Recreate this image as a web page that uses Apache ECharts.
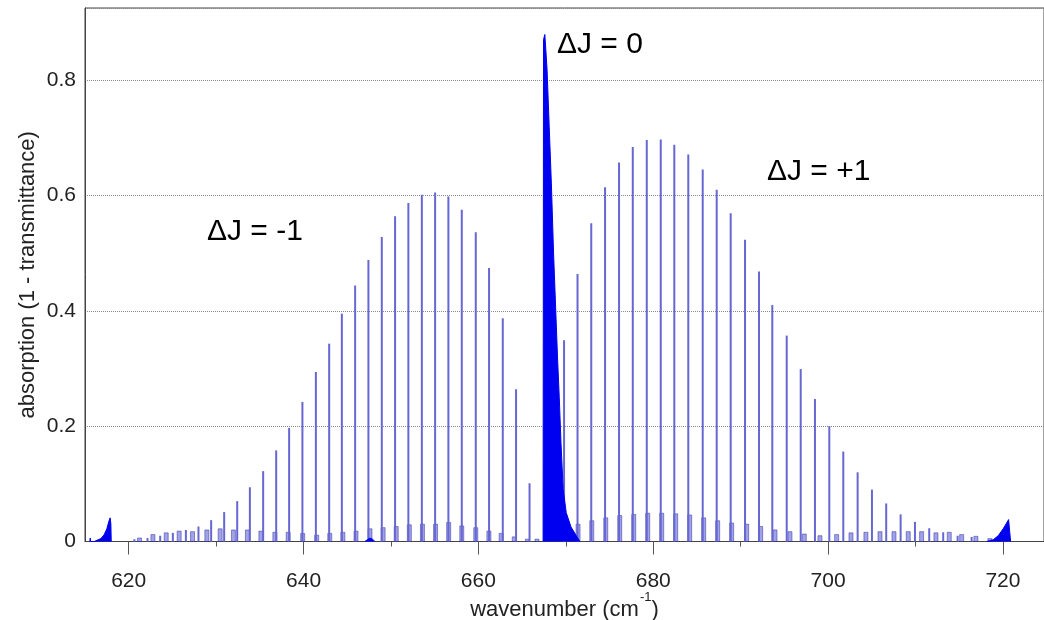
<!DOCTYPE html>
<html>
<head>
<meta charset="utf-8">
<script src="https://cdn.jsdelivr.net/npm/echarts@6/dist/echarts.min.js"></script>
<style>
html,body{margin:0;padding:0;background:#fff;}
#c{width:1044px;height:620px;}
</style>
</head>
<body>
<div id="c"></div>
<script>
// ---- data ----
const xLabelValues = [620, 640, 660, 680, 700, 720];
const xMinorTickValues = [630, 650, 670, 690, 710];
const yTickLabels = ['0', '0.2', '0.4', '0.6', '0.8'];

// P branch (ΔJ = -1) lines
const pWn  = [620.65, 622.15, 623.60, 625.05, 626.54, 627.98, 629.43, 630.92, 632.41, 633.86,
              635.38, 636.87, 638.35, 639.87, 641.41, 642.93, 644.38, 645.90, 647.42, 648.95,
              650.47, 651.99, 653.53, 655.05, 656.57, 658.10, 659.70, 661.22, 662.79, 664.31, 665.85];
const pAbs = [0.004, 0.006, 0.010, 0.015, 0.020, 0.026, 0.037, 0.051, 0.070, 0.094,
              0.122, 0.158, 0.197, 0.242, 0.294, 0.343, 0.395, 0.444, 0.488, 0.528,
              0.564, 0.587, 0.601, 0.605, 0.598, 0.575, 0.536, 0.474, 0.387, 0.264, 0.101];

// R branch (ΔJ = +1) lines
const rWn  = [669.80, 671.34, 672.91, 674.49, 676.09, 677.66, 679.26, 680.86, 682.41, 684.01,
              685.66, 687.26, 688.86, 690.50, 692.10, 693.62, 695.27, 696.87, 698.50, 700.14,
              701.74, 703.38, 705.02, 706.65, 708.30, 709.94, 711.57, 713.17, 714.82, 716.42];
const rAbs = [0.349, 0.464, 0.552, 0.614, 0.657, 0.684, 0.696, 0.697, 0.688, 0.671,
              0.645, 0.610, 0.569, 0.523, 0.468, 0.410, 0.357, 0.299, 0.247, 0.200,
              0.156, 0.120, 0.090, 0.066, 0.047, 0.034, 0.023, 0.016, 0.010, 0.008];

// weak hot-band lines
const hotWn  = [621.24, 622.77, 624.29, 625.77, 627.30, 628.94, 630.46, 631.98, 633.58, 635.12,
                636.72, 638.24, 639.90, 641.50, 643.00, 644.50, 646.00, 647.60, 649.10, 650.60,
                652.10, 653.60, 655.10, 656.60, 658.10, 659.70, 661.20, 662.60, 664.10, 665.60, 666.70,
                671.40, 672.97, 674.57, 676.17, 677.77, 679.37, 680.97, 682.57, 684.17, 685.77,
                687.37, 688.97, 690.69, 692.29, 693.93, 695.64, 697.28, 699.07, 700.98, 702.62,
                704.33, 705.94, 707.54, 709.17, 710.70, 712.34, 713.86, 715.28, 716.91, 718.51];
const hotAbs = [0.006, 0.012, 0.015, 0.018, 0.017, 0.020, 0.022, 0.020, 0.020, 0.018,
                0.016, 0.016, 0.014, 0.011, 0.014, 0.016, 0.018, 0.022, 0.024, 0.026,
                0.029, 0.030, 0.030, 0.033, 0.027, 0.024, 0.018, 0.014, 0.008, 0.004, 0.004,
                0.030, 0.036, 0.041, 0.045, 0.047, 0.049, 0.049, 0.048, 0.046, 0.041,
                0.036, 0.032, 0.030, 0.026, 0.020, 0.017, 0.013, 0.010, 0.012, 0.015,
                0.016, 0.017, 0.017, 0.017, 0.017, 0.015, 0.016, 0.012, 0.009, 0.005];

// Q branch (ΔJ = 0) envelope
const qWn  = [667.40, 667.45, 667.60, 667.85, 668.10, 668.35, 668.60, 668.85, 669.05, 669.25,
              669.45, 669.70, 670.05, 670.60, 671.20, 671.60];
const qAbs = [0, 0.870, 0.879, 0.820, 0.720, 0.620, 0.500, 0.400, 0.320, 0.250,
              0.170, 0.090, 0.050, 0.025, 0.010, 0];

// small hot-band Q branches
const q618Wn  = [615.55, 615.60, 615.65, 616.05, 616.82, 617.20, 617.50, 617.73, 617.88, 617.96, 618.00];
const q618Abs = [0, 0.006, 0, 0, 0.005, 0.012, 0.022, 0.035, 0.041, 0.030, 0];
const q647Wn  = [647.00, 647.30, 647.60, 647.90, 648.15];
const q647Abs = [0, 0.003, 0.006, 0.004, 0];
const q720Wn  = [718.14, 718.89, 719.46, 720.03, 720.42, 720.65, 720.80, 720.88];
const q720Abs = [0, 0.003, 0.010, 0.022, 0.032, 0.038, 0.035, 0];

// ---- chart ----
const pairs = (a, b) => a.map((v, i) => [v, b[i]]);
const FONT = "'Liberation Sans', Arial, Helvetica, sans-serif";

function stickRender(color, width) {
  return function (params, api) {
    const x = api.value(0), v = api.value(1);
    const p0 = api.coord([x, 0]);
    const p1 = api.coord([x, v]);
    return {
      type: 'line',
      shape: { x1: p0[0], y1: p0[1], x2: p1[0], y2: p1[1] },
      style: { stroke: color, lineWidth: width }
    };
  };
}
function blockRender(params, api) {
  const x = api.value(0), v = api.value(1);
  const p0 = api.coord([x, 0]);
  const p1 = api.coord([x, v]);
  return {
    type: 'rect',
    shape: { x: p0[0] - 2, y: p1[1], width: 4, height: p0[1] - p1[1] },
    style: { fill: 'rgba(70,70,205,0.5)', stroke: 'rgba(50,50,170,0.65)', lineWidth: 0.8 }
  };
}
function areaSeries(wn, ab) {
  return {
    type: 'line', data: pairs(wn, ab), symbol: 'none', z: 5,
    lineStyle: { color: '#0000f0', width: 1 },
    areaStyle: { color: '#0000f0', opacity: 1 }
  };
}

const chart = echarts.init(document.getElementById('c'), null, { renderer: 'canvas' });
chart.setOption({
  animation: false,
  backgroundColor: '#fff',
  grid: {
    left: 85, right: 0, top: 8, bottom: 78.5, containLabel: false, outerBoundsMode: 'none',
    show: true, borderColor: '#444', borderWidth: 1
  },
  xAxis: [{
    type: 'value', min: 615, max: 724.7, position: 'bottom',
    axisLine: { show: true, onZero: false, lineStyle: { color: '#444', width: 1 } },
    axisTick: { show: true, inside: false, length: 13, customValues: xLabelValues, lineStyle: { color: '#555' } },
    axisLabel: { customValues: xLabelValues, fontSize: 21, color: '#222', margin: 29, fontFamily: FONT },
    splitLine: { show: false },
    name: '{a|wavenumber (cm}{s|-1}{a|)}',
    nameLocation: 'middle', nameGap: 49, nameMoveOverlap: false,
    nameTextStyle: {
      fontFamily: FONT, color: '#222',
      rich: {
        a: { fontSize: 22, fontFamily: FONT, color: '#222', lineHeight: 30, verticalAlign: 'bottom' },
        s: { fontSize: 13, fontFamily: FONT, color: '#222', lineHeight: 30, verticalAlign: 'top', padding: [0, 0, 0, 1] }
      }
    }
  }, {
    type: 'value', min: 615, max: 724.7, position: 'bottom',
    axisLine: { show: false, onZero: false },
    axisTick: { show: true, inside: false, length: 5, customValues: xMinorTickValues, lineStyle: { color: '#555' } },
    axisLabel: { show: false },
    splitLine: { show: false }
  }],
  yAxis: {
    type: 'value', min: 0, max: 0.925, interval: 0.2,
    axisLine: { show: true, lineStyle: { color: '#444' } },
    axisTick: { show: false },
    axisLabel: {
      fontSize: 21, color: '#222', margin: 9, fontFamily: FONT, showMaxLabel: false,
      formatter: (v) => { const i = Math.round(v / 0.2); return (Math.abs(v - i * 0.2) < 1e-6 && yTickLabels[i]) ? yTickLabels[i] : ''; }
    },
    splitLine: { show: true, lineStyle: { type: 'dotted', color: '#8a8a8a', width: 1 } },
    name: 'absorption (1 - transmittance)',
    nameLocation: 'middle', nameGap: 46, nameMoveOverlap: false,
    nameTextStyle: { fontSize: 22, color: '#222', fontFamily: FONT }
  },
  series: [
    { type: 'custom', data: pairs(hotWn, hotAbs), renderItem: blockRender, z: 2 },
    { type: 'custom', data: pairs(pWn, pAbs), renderItem: stickRender('#6767d2', 2), z: 3 },
    { type: 'custom', data: pairs(rWn, rAbs), renderItem: stickRender('#6767d2', 2), z: 3 },
    areaSeries(qWn, qAbs),
    areaSeries(q618Wn, q618Abs),
    areaSeries(q647Wn, q647Abs),
    areaSeries(q720Wn, q720Abs)
  ],
  graphic: [
    { type: 'text', x: 557, y: 45, z: 10, style: { text: 'ΔJ = 0', font: '30px ' + FONT, fill: '#000', verticalAlign: 'middle', align: 'left' } },
    { type: 'text', x: 207, y: 232, z: 10, style: { text: 'ΔJ = -1', font: '30px ' + FONT, fill: '#000', verticalAlign: 'middle', align: 'left' } },
    { type: 'text', x: 767, y: 172, z: 10, style: { text: 'ΔJ = +1', font: '30px ' + FONT, fill: '#000', verticalAlign: 'middle', align: 'left' } }
  ]
});
</script>
</body>
</html>
